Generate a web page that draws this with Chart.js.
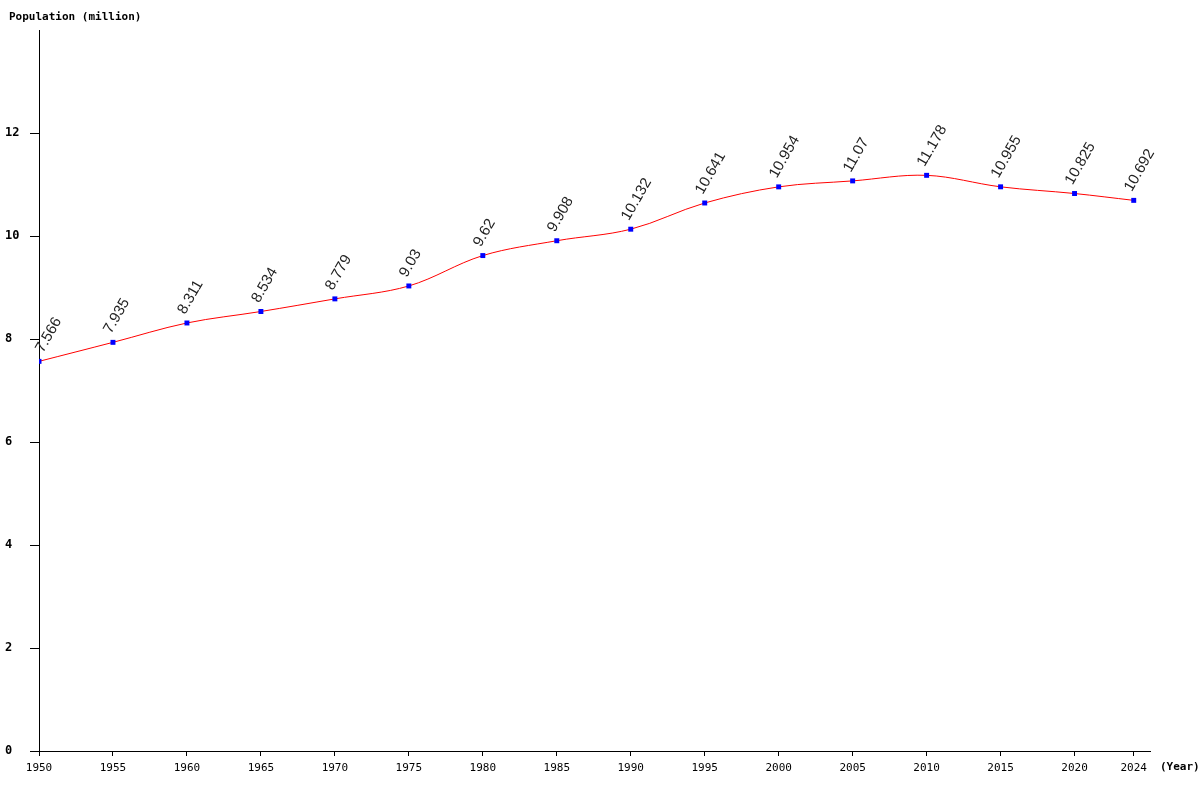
<!DOCTYPE html>
<html lang="en">
<head>
  <meta charset="UTF-8">
  <title>Population (million)</title>
  <script src="https://cdn.jsdelivr.net/npm/chart.js"></script>
  <style>
    html, body { margin: 0; padding: 0; background: #fff; }
    #wrap { width: 1200px; height: 800px; position: relative; }
  </style>
</head>
<body>
  <div id="wrap"><canvas id="popChart" width="1200" height="800"></canvas></div>

  <script>
    // data
    const years = [1950, 1955, 1960, 1965, 1970, 1975, 1980, 1985, 1990, 1995, 2000, 2005, 2010, 2015, 2020, 2024];
    const population = [7.566, 7.935, 8.311, 8.534, 8.779, 9.03, 9.62, 9.908, 10.132, 10.641, 10.954, 11.07, 11.178, 10.955, 10.825, 10.692];
    const yTicks = [0, 2, 4, 6, 8, 10, 12];
    const xTicks = years;

    const monoFont = '"DejaVu Sans Mono", "Liberation Mono", monospace';

    // value labels rotated above each point + axis captions
    const labelsPlugin = {
      id: "labelsPlugin",
      afterDatasetsDraw(chart) {
        const ctx = chart.ctx;
        const meta = chart.getDatasetMeta(0);
        const left = chart.chartArea.left;
        ctx.save();
        ctx.font = '15px "Liberation Sans", Arial, sans-serif';
        ctx.fillStyle = "#222";
        ctx.textAlign = "left";
        ctx.textBaseline = "alphabetic";
        meta.data.forEach((pt, i) => {
          ctx.save();
          // keep the first label clear of the y axis
          ctx.translate(Math.max(pt.x - 2, left + 4), pt.y - 8);
          ctx.rotate(-60 * Math.PI / 180);
          ctx.fillText(String(population[i]), 0, 0);
          ctx.restore();
        });
        ctx.restore();
      },
      afterDraw(chart) {
        const ctx = chart.ctx;
        ctx.save();
        ctx.font = "bold 11px " + monoFont;
        ctx.fillStyle = "#000";
        ctx.textBaseline = "middle";
        ctx.fillText("Population (million)", 9, 17);
        ctx.fillText("(Year)", 1160, 767);
        ctx.restore();
      }
    };

    new Chart(document.getElementById("popChart"), {
      type: "line",
      data: {
        datasets: [{
          data: years.map((y, i) => ({ x: y, y: population[i] })),
          borderColor: "#ff0000",
          borderWidth: 1,
          tension: 0.35,
          pointStyle: "rect",
          pointRadius: 3.5,
          pointBackgroundColor: "#0000ff",
          pointBorderColor: "#0000ff",
          pointBorderWidth: 0
        }]
      },
      options: {
        responsive: false,
        animation: false,
        layout: { padding: { top: 30, right: 50, left: 5, bottom: 0 } },
        plugins: { legend: { display: false }, tooltip: { enabled: false } },
        scales: {
          x: {
            type: "linear",
            min: 1950,
            max: 2025.1,
            afterBuildTicks: (axis) => { axis.ticks = xTicks.map(v => ({ value: v })); },
            afterFit: (axis) => { axis.height = 49; },
            grid: { drawOnChartArea: false, drawTicks: true, tickLength: 5, color: "#000" },
            border: { color: "#000", width: 1 },
            ticks: {
              autoSkip: false,
              maxRotation: 0,
              padding: 6,
              color: "#000",
              font: { family: monoFont, size: 11 },
              callback: (v) => String(v)
            }
          },
          y: {
            min: 0,
            max: 14,
            afterBuildTicks: (axis) => { axis.ticks = yTicks.map(v => ({ value: v })); },
            afterFit: (axis) => { axis.width = 34; },
            grid: { drawOnChartArea: false, drawTicks: true, tickLength: 9, color: "#000" },
            border: { color: "#000", width: 1 },
            ticks: {
              crossAlign: "far",
              padding: 4,
              color: "#000",
              font: { family: monoFont, size: 12, weight: "bold" }
            }
          }
        }
      },
      plugins: [labelsPlugin]
    });
  </script>
</body>
</html>
